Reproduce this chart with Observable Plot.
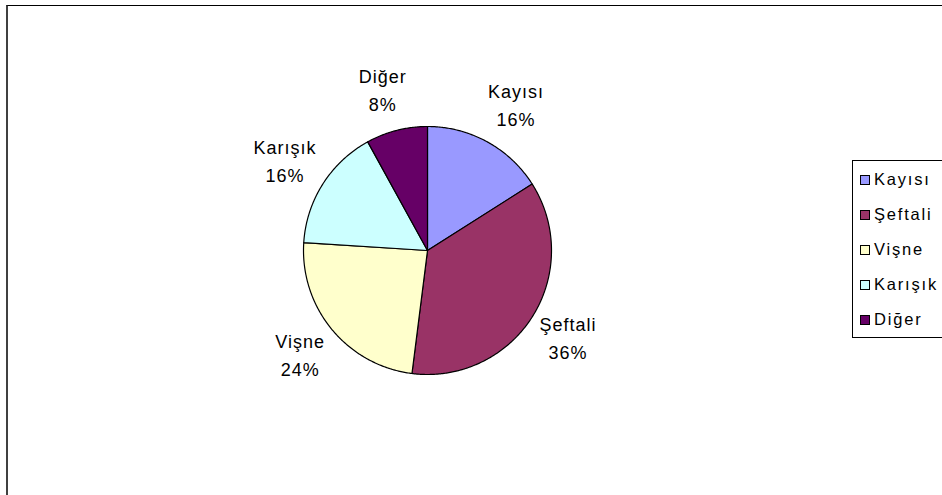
<!DOCTYPE html>
<html><head><meta charset="utf-8">
<script src="https://cdn.jsdelivr.net/npm/d3@7"></script>
<script src="https://cdn.jsdelivr.net/npm/@observablehq/plot@0.6"></script>
<style>
html,body{margin:0;padding:0;background:#fff;width:942px;height:495px;overflow:hidden;position:relative;font-family:"Liberation Sans",Arial,sans-serif;}
#frame{position:absolute;left:6px;top:5px;width:940px;height:495px;border-top:1px solid #000;border-left:2px solid #404040;box-sizing:border-box;}
#chart{position:absolute;left:0;top:0;}
#chart svg text{letter-spacing:1px;}
#legend{position:absolute;left:852px;top:160px;width:120px;border:1px solid #000;background:#fff;padding-top:1px;}
.item{height:35px;display:flex;align-items:center;font-size:16.5px;letter-spacing:1.8px;color:#000;white-space:nowrap;}
.sw{width:8px;height:8px;border:1px solid #000;margin-left:7px;margin-right:4px;flex:none;}
</style></head><body>
<div id="frame"></div><div id="chart"></div><div id="legend"></div>
<script>
const categories = ["Kayısı", "Şeftali", "Vişne", "Karışık", "Diğer"];
const values = [16, 36, 24, 16, 8];
const colors = ["#9999FF", "#993366", "#FFFFCC", "#CCFFFF", "#660066"];

const R = 124, CX = 427, CY = 250;
const total = d3.sum(values);
const arcs = d3.pie().sort(null).value(d => d)(values);

const slices = [];
arcs.forEach((a, i) => {
  const n = Math.max(2, Math.ceil((a.endAngle - a.startAngle) / 0.01));
  slices.push({name: categories[i], x: 0, y: 0});
  for (let k = 0; k <= n; k++) {
    const t = a.startAngle + (a.endAngle - a.startAngle) * k / n;
    slices.push({name: categories[i], x: Math.sin(t), y: Math.cos(t)});
  }
  slices.push({name: categories[i], x: 0, y: 0});
});

const ctx = document.createElement("canvas").getContext("2d");
ctx.font = "18px 'Liberation Sans', Arial, sans-serif";
const LS = 1;
const labels = arcs.map((a, i) => {
  const m = (a.startAngle + a.endAngle) / 2;
  const lines = [categories[i], Math.round(a.data / total * 100) + "%"];
  const w = Math.max(...lines.map(s => ctx.measureText(s).width + s.length * LS));
  const s = Math.sin(m), c = Math.cos(m);
  const px = 142 * s + 0.72 * Math.max(-1, Math.min(1, s / 0.45)) * w / 2;
  const py = 165 * c + 3;
  return {x: px / R, y: py / R, text: lines.join("\n")};
});

const plot = Plot.plot({
  width: 942, height: 495, margin: 0,
  x: {domain: [-1, 1], range: [CX - R, CX + R], axis: null},
  y: {domain: [-1, 1], range: [CY + R, CY - R], axis: null},
  color: {type: "ordinal", domain: categories, range: colors},
  style: {background: "transparent", fontFamily: "'Liberation Sans', Arial, sans-serif", overflow: "visible"},
  marks: [
    Plot.line(slices, {x: "x", y: "y", z: "name", fill: "name", stroke: "#000", strokeWidth: 1.2, curve: "linear", strokeLinejoin: "round"}),
    Plot.text(labels, {x: "x", y: "y", text: "text", fontSize: 18, lineHeight: 1.58, textAnchor: "middle", lineAnchor: "middle", fill: "#000"})
  ]
});
document.getElementById("chart").appendChild(plot);

const legend = document.getElementById("legend");
categories.forEach((name, i) => {
  const row = document.createElement("div");
  row.className = "item";
  const sw = document.createElement("span");
  sw.className = "sw";
  sw.style.background = colors[i];
  const tx = document.createElement("span");
  tx.textContent = name;
  row.appendChild(sw); row.appendChild(tx);
  legend.appendChild(row);
});
</script>
</body></html>
